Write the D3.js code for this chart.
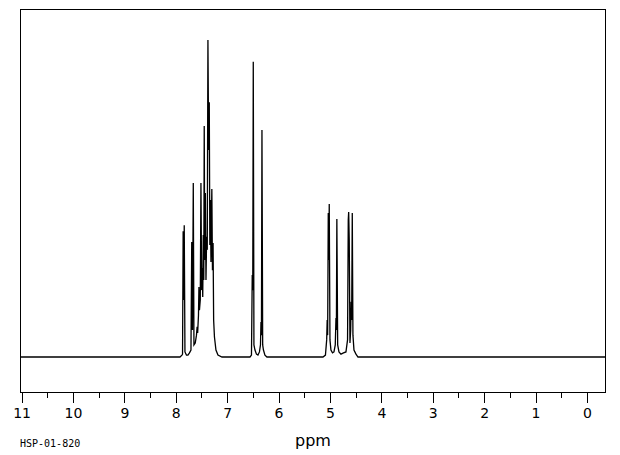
<!DOCTYPE html>
<html><head><meta charset="utf-8">
<script src="https://cdn.jsdelivr.net/npm/d3@7"></script>
<style>html,body{margin:0;padding:0;background:#fff;}svg{display:block;}</style>
</head><body><svg id="c" width="620" height="455"></svg>
<script>
// ---- data (ppm, relative intensity; tallest line = 100) ----
const majorTicks = [11,10,9,8,7,6,5,4,3,2,1,0];
const minorTicks = [10.5,9.5,8.5,7.5,6.5,5.5,4.5,3.5,2.5,1.5,0.5];
const xLabel = "ppm";
const sampleId = "HSP-01-820";

const baseLeft = [[11.03,0],[7.918,0],[7.879,0.6]];
const aromatic = [
 [7.868,0.9],[7.856,39.7],[7.846,18.0],[7.835,41.6],[7.821,1.6],[7.792,0.6],[7.763,0.6],
 [7.733,1.3],[7.704,2.2],[7.689,36.3],[7.675,8.5],[7.659,54.9],[7.646,3.8],[7.621,4.4],
 [7.597,6.9],[7.584,9.5],[7.574,7.6],[7.558,13.2],[7.549,22.1],[7.539,14.8],[7.523,18.0],
 [7.510,54.9],[7.496,21.1],[7.484,28.1],[7.475,18.9],[7.465,38.5],[7.455,24.3],[7.446,72.9],
 [7.436,30.6],[7.424,51.7],[7.412,24.3],[7.399,37.9],[7.387,33.8],[7.374,100],[7.360,65.3],
 [7.348,80.4],[7.337,35.3],[7.325,49.5],[7.315,30.0],[7.298,53.0],[7.286,27.4],[7.274,36.0],
 [7.263,11.7],[7.247,6.3],[7.218,2.2],[7.179,0.6],[7.101,0]
];
const olefinic = [
 [6.556,0],[6.527,0.6],[6.512,25.9],[6.502,21.1],[6.492,93.1],[6.479,3.8],[6.459,2.2],
 [6.430,0.9],[6.401,0.6],[6.372,1.6],[6.352,3.8],[6.342,11.0],[6.333,6.9],[6.323,71.6],
 [6.309,3.8],[6.294,2.2],[6.265,0.6],[6.226,0]
];
const vinyl = [
 [5.136,0],[5.088,0.6],[5.064,5.4],[5.054,11.7],[5.045,6.9],[5.033,45.4],[5.023,30.6],
 [5.014,48.3],[5.000,5.4],[4.981,2.2],[4.951,1.3],[4.922,1.6],[4.897,3.8],[4.883,12.3],
 [4.875,8.5],[4.866,43.5],[4.850,3.8],[4.825,1.6],[4.786,0.9],[4.737,1.3],[4.689,1.6],
 [4.658,5.4],[4.644,43.2],[4.636,45.7],[4.625,36.9],[4.611,4.4],[4.597,8.5],[4.588,17.4],
 [4.578,11.7],[4.566,45.4],[4.553,6.9],[4.533,2.2],[4.494,0.9],[4.455,0]
];
const baseRight = [[-0.37,0]];

// ---- layout ----
const L = 20, R = 606, T = 9, B = 392;
const svg = d3.select("#c");
const x = d3.scaleLinear().domain([11.03, -0.37]).range([L, R]);
const y = d3.scaleLinear().domain([-11.04, 109.78]).range([B, T]);

svg.append("defs").append("clipPath").attr("id","clip")
  .append("rect").attr("x",L).attr("y",T).attr("width",R-L).attr("height",B-T);

const trace = [].concat(baseLeft, aromatic, olefinic, vinyl, baseRight);
const line = d3.line().x(d=>x(d[0])).y(d=>y(d[1]));
svg.append("path").datum(trace).attr("d",line)
  .attr("clip-path","url(#clip)")
  .attr("fill","none").attr("stroke","#000").attr("stroke-width",1.3)
  .attr("stroke-linejoin","miter");

// frame
svg.append("rect").attr("x",L+0.5).attr("y",T+0.5).attr("width",R-L-1).attr("height",B-T)
  .attr("fill","none").attr("stroke","#000").attr("stroke-width",1).attr("shape-rendering","crispEdges");

// axes
const gMinor = svg.append("g").attr("transform",`translate(0,${B})`)
  .call(d3.axisBottom(x).tickValues(minorTicks).tickSize(6).tickFormat(""));
const gMajor = svg.append("g").attr("transform",`translate(0,${B})`)
  .call(d3.axisBottom(x).tickValues(majorTicks).tickSize(11).tickPadding(5).tickFormat(d3.format("d")));
[gMinor,gMajor].forEach(g=>{
  g.select(".domain").remove();
  g.selectAll("line").attr("stroke","#000").attr("stroke-width",1).attr("shape-rendering","crispEdges");
});
gMajor.selectAll("text").attr("fill","#000")
  .style("font-family","'DejaVu Sans', sans-serif").style("font-size","14px");

svg.append("text").attr("x",313).attr("y",446).attr("text-anchor","middle")
  .style("font-family","'DejaVu Sans', sans-serif").style("font-size","16px").attr("fill","#000")
  .text(xLabel);
svg.append("text").attr("x",20).attr("y",447)
  .style("font-family","'DejaVu Sans Mono', monospace").style("font-size","10px").attr("fill","#000")
  .text(sampleId);
</script></body></html>
